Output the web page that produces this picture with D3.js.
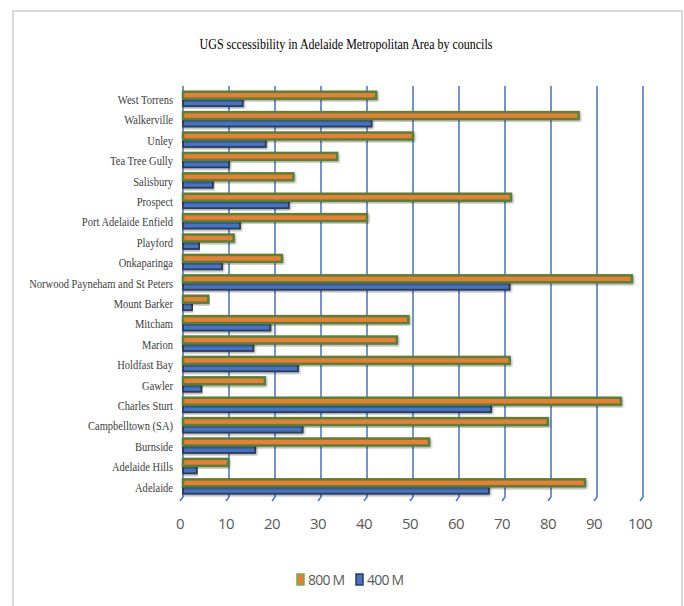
<!DOCTYPE html>
<html>
<head>
<meta charset="utf-8">
<script src="https://cdn.jsdelivr.net/npm/d3@7"></script>
<style>
  body { margin: 0; background: #fff; }
  svg { display: block; }
</style>
</head>
<body>
<div id="chart"></div>
<script>
// councils, listed bottom to top as in the chart
var councils = ['Adelaide', 'Adelaide Hills', 'Burnside', 'Campbelltown (SA)', 'Charles Sturt',
    'Gawler', 'Holdfast Bay', 'Marion', 'Mitcham', 'Mount Barker',
    'Norwood Payneham and St Peters', 'Onkaparinga', 'Playford', 'Port Adelaide Enfield',
    'Prospect', 'Salisbury', 'Tea Tree Gully', 'Unley', 'Walkerville', 'West Torrens'];
var m800 = [87.4, 9.8, 53.5, 79.3, 95.2, 17.8, 71, 46.5, 49, 5.5,
    97.6, 21.5, 11, 40, 71.3, 24, 33.5, 50, 86, 42];
var m400 = [66.5, 3, 15.7, 26, 67, 4, 25, 15.3, 19, 2,
    71, 8.5, 3.5, 12.4, 23, 6.5, 10, 18, 41, 13];
var ticks = [0, 10, 20, 30, 40, 50, 60, 70, 80, 90, 100];
var seriesNames = ['800 M', '400 M'];

var width = 684, height = 606;
var svg = d3.select('#chart').append('svg')
    .attr('width', width)
    .attr('height', height);

// drop shadow for the bars
var defs = svg.append('defs');
var f = defs.append('filter').attr('id', 'shadow')
    .attr('x', '-5%').attr('y', '-40%').attr('width', '110%').attr('height', '180%');
f.append('feDropShadow').attr('dx', 1).attr('dy', 1.5).attr('stdDeviation', 0.8)
    .attr('flood-color', '#000').attr('flood-opacity', 0.35);

// outer chart frame
svg.append('path')
    .attr('d', 'M13,' + height + ' V11 H682 V' + height)
    .style('fill', 'none')
    .style('stroke', '#d9d9d9')
    .style('stroke-width', 2);

// title, squeezed horizontally like the narrow serif in the original
svg.append('g')
    .attr('transform', 'translate(346,49) scale(0.8,1)')
    .append('text')
    .style('text-anchor', 'middle')
    .style('font-family', '"Liberation Serif", "DejaVu Serif", serif')
    .style('font-size', '15px')
    .style('fill', '#000')
    .text('UGS sccessibility in Adelaide Metropolitan Area by councils');

var x = d3.scaleLinear().domain([0, 100]).range([183, 643]);
var y = d3.scaleBand().domain(councils.slice().reverse()).range([89, 497]).paddingInner(0.22).paddingOuter(0.11);

var gridTop = 86, gridBottom = 497;

// gridlines with the small slanted foot
svg.selectAll('.grid')
    .data(ticks)
    .enter()
    .append('path')
    .attr('class', 'grid')
    .attr('d', function(d) {
        var gx = x(d);
        return 'M' + gx + ',' + gridTop + ' V' + gridBottom + ' L' + (gx - 3) + ',' + (gridBottom + 4);
    })
    .style('fill', 'none')
    .style('stroke', '#4472c4')
    .style('stroke-width', 1.5);

// tick labels
svg.selectAll('.tick-label')
    .data(ticks)
    .enter()
    .append('text')
    .attr('class', 'tick-label')
    .attr('x', function(d) { return x(d) - 3; })
    .attr('y', 529)
    .style('text-anchor', 'middle')
    .style('font-family', '"Open Sans", sans-serif')
    .style('font-size', '15px')
    .style('letter-spacing', '-0.5px')
    .style('fill', '#595959')
    .text(function(d) { return d; });

var barH = y.bandwidth() / 2;

var rows = councils.map(function(c, i) { return { name: c, a: m800[i], b: m400[i] }; });

// 400 M bars (lower half of each band)
svg.selectAll('.bar400')
    .data(rows)
    .enter()
    .append('rect')
    .attr('class', 'bar400')
    .attr('x', x(0))
    .attr('y', function(d) { return y(d.name) + barH; })
    .attr('width', function(d) { return x(d.b) - x(0); })
    .attr('height', barH - 1)
    .attr('filter', 'url(#shadow)')
    .style('fill', '#4472c4')
    .style('stroke', '#2e3b55')
    .style('stroke-width', 1.8);

// 800 M bars (upper half)
svg.selectAll('.bar800')
    .data(rows)
    .enter()
    .append('rect')
    .attr('class', 'bar800')
    .attr('x', x(0))
    .attr('y', function(d) { return y(d.name) + 0.5; })
    .attr('width', function(d) { return x(d.a) - x(0); })
    .attr('height', barH - 1)
    .attr('filter', 'url(#shadow)')
    .style('fill', '#ed7d31')
    .style('stroke', '#548235')
    .style('stroke-width', 2.5);

// category labels
svg.selectAll('.cat')
    .data(councils)
    .enter()
    .append('g')
    .attr('class', 'cat')
    .attr('transform', function(d) { return 'translate(173,' + (y(d) + y.bandwidth() / 2) + ') scale(0.78,1)'; })
    .append('text')
    .attr('dy', '0.35em')
    .style('text-anchor', 'end')
    .style('font-family', '"Liberation Serif", "DejaVu Serif", serif')
    .style('font-size', '13.5px')
    .style('fill', '#404040')
    .text(function(d) { return d; });

// legend
var legend = svg.append('g').attr('transform', 'translate(297,580)');
var legendItems = [
    { name: seriesNames[0], fill: '#ed7d31', stroke: '#70ad47', x: 0 },
    { name: seriesNames[1], fill: '#4472c4', stroke: '#2e3b55', x: 59 }
];
var li = legend.selectAll('.legend')
    .data(legendItems)
    .enter()
    .append('g')
    .attr('class', 'legend')
    .attr('transform', function(d) { return 'translate(' + d.x + ',0)'; });
li.append('rect')
    .attr('x', 0).attr('y', -6)
    .attr('width', 7).attr('height', 11)
    .style('fill', function(d) { return d.fill; })
    .style('stroke', function(d) { return d.stroke; })
    .style('stroke-width', 1.5);
li.append('text')
    .attr('x', 11).attr('y', 0)
    .attr('dy', '0.35em')
    .style('font-family', '"Open Sans", sans-serif')
    .style('font-size', '14px')
    .style('letter-spacing', '-0.8px')
    .style('fill', '#595959')
    .text(function(d) { return d.name; });
</script>
</body>
</html>
